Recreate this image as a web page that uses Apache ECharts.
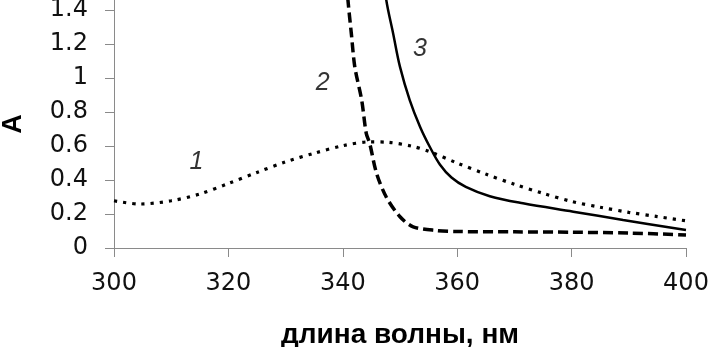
<!DOCTYPE html>
<html>
<head>
<meta charset="utf-8">
<script src="https://cdn.jsdelivr.net/npm/echarts@6/dist/echarts.min.js"></script>
<style>html,body{margin:0;padding:0;background:#fff}#c{width:713px;height:347px}</style>
</head>
<body>
<div id="c"></div>
<script>
// Curve 1 (dotted)
const x1 = [300, 304.5, 310, 315, 320, 325, 330, 335, 340, 344.7, 348, 352, 355, 360, 365, 370, 375, 380, 385, 390, 395, 400];
const y1 = [0.278, 0.259, 0.278, 0.318, 0.38, 0.445, 0.507, 0.558, 0.602, 0.625, 0.622, 0.60, 0.57, 0.50, 0.435, 0.375, 0.322, 0.274, 0.24, 0.21, 0.185, 0.16];
// Curve 2 (dashed)
const x2 = [340.5, 340.9, 341.5, 342.1, 343.3, 344.1, 344.7, 345.9, 347.6, 350, 352.3, 356.4, 360, 370, 380, 390, 400];
const y2 = [1.65, 1.46, 1.26, 1.066, 0.871, 0.675, 0.616, 0.44, 0.30, 0.184, 0.125, 0.103, 0.097, 0.095, 0.093, 0.088, 0.077];
// Curve 3 (solid)
const x3 = [346.5, 347.6, 348.8, 350, 351.7, 353.5, 355.2, 357, 359, 361.5, 365.7, 371.5, 380.3, 389, 400];
const y3 = [1.75, 1.46, 1.263, 1.066, 0.871, 0.714, 0.596, 0.49, 0.415, 0.36, 0.305, 0.263, 0.214, 0.165, 0.106];
// Curve number annotations
const annX = [314.4, 336.5, 353.5];
const annY = [0.508, 0.972, 1.169];
const annText = ['1', '2', '3'];
// Axis ticks
const yTicks = [0, 0.2, 0.4, 0.6, 0.8, 1, 1.2, 1.4];
const xTicks = [300, 320, 340, 360, 380, 400];

const zip = (xs, ys) => xs.map((x, i) => [x, ys[i]]);
const axisCol = '#8a8a8a';
const tickFont = { fontFamily: 'DejaVu Sans', fontSize: 24, color: '#111' };

const chart = echarts.init(document.getElementById('c'), null, { renderer: 'canvas' });
chart.setOption({
  animation: false,
  backgroundColor: '#ffffff',
  grid: { left: 114, right: 27, top: 0, bottom: 99, containLabel: false, outerBoundsMode: 'none' },
  xAxis: {
    type: 'value', min: 300, max: 400, interval: 20,
    name: 'длина волны, нм', nameLocation: 'middle', nameGap: 73,
    nameTextStyle: { fontFamily: 'Liberation Sans', fontWeight: 'bold', fontSize: 28, color: '#000' },
    axisLine: { show: true, lineStyle: { color: axisCol, width: 1 } },
    axisTick: { show: true, inside: false, length: 9, lineStyle: { color: axisCol }, customValues: xTicks },
    axisLabel: Object.assign({ margin: 24, customValues: xTicks }, tickFont),
    splitLine: { show: false }
  },
  yAxis: {
    type: 'value', min: 0, max: 1.46,
    name: 'A', nameLocation: 'middle', nameGap: 87, nameRotate: 90,
    nameTextStyle: { fontFamily: 'Liberation Sans', fontWeight: 'bold', fontSize: 27, color: '#000' },
    axisLine: { show: true, lineStyle: { color: axisCol, width: 1 } },
    axisTick: { show: true, inside: false, length: 9, lineStyle: { color: axisCol }, customValues: yTicks },
    axisLabel: Object.assign({ margin: 26, customValues: yTicks, formatter: v => String(+v.toFixed(1)) }, tickFont),
    splitLine: { show: false }
  },
  series: [
    { type: 'line', data: zip(x1, y1), smooth: 0.3, showSymbol: false,
      lineStyle: { color: '#000', width: 3.2, type: [3.2, 6], cap: 'butt' } },
    { type: 'line', data: zip(x2, y2), smooth: 0.3, showSymbol: false,
      lineStyle: { color: '#000', width: 3.5, type: [10, 5], cap: 'butt' } },
    { type: 'line', data: zip(x3, y3), smooth: 0.35, showSymbol: false,
      lineStyle: { color: '#000', width: 2.5 } },
    { type: 'scatter', symbolSize: 0, silent: true,
      data: annX.map((x, i) => ({ value: [x, annY[i]], name: annText[i] })),
      label: { show: true, position: 'inside', formatter: p => p.name,
        fontFamily: 'Liberation Sans', fontStyle: 'italic', fontSize: 25, color: '#000' } }
  ]
});
</script>
</body>
</html>
